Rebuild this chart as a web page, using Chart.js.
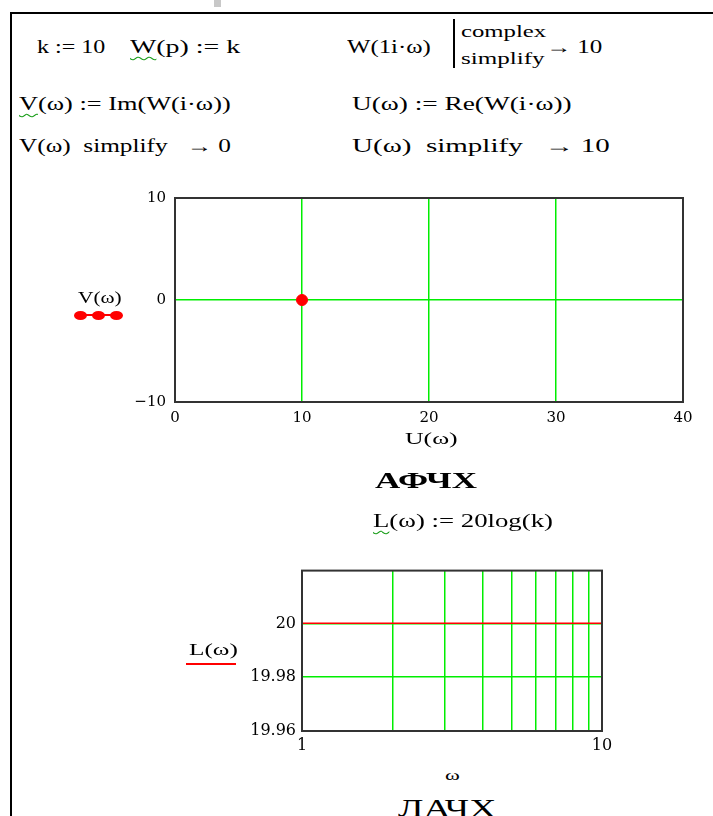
<!DOCTYPE html>
<html lang="ru">
<head>
  <meta charset="UTF-8">
  <title>АФЧХ и ЛАЧХ</title>
  <script src="https://cdn.jsdelivr.net/npm/chart.js"></script>
  <style>
    body { margin: 0; background: #fff; }
    #page { position: relative; width: 713px; height: 816px; overflow: hidden; background: #fff; }
    .t { position: absolute; white-space: pre; font-family: "Liberation Serif", serif; font-size: 18px;
         line-height: 20px; color: #000; transform-origin: left center; }
    .sq { text-decoration: underline wavy #1a9e1a; text-decoration-thickness: 1px; text-underline-offset: 3px; }
    .box { position: absolute; }
    canvas { position: absolute; }
  </style>
</head>
<body>
<div id="page">
  <div class="box" style="left:10px;top:12px;width:2px;height:804px;background:#000"></div>
  <div class="box" style="left:10px;top:12px;width:703px;height:2px;background:#000"></div>
  <div class="box" style="left:214px;top:0;width:7px;height:7px;background:#c8c8c8"></div>

  <div class="t" data-w="68" style="left:37px;top:37px">k := 10</div>
  <div class="t" data-w="110" style="left:130px;top:37px"><span class="sq">W</span>(p) := k</div>
  <div class="t" data-w="84" style="left:347px;top:37px">W(1i·ω)</div>
  <div class="box" style="left:453px;top:19px;width:2px;height:49px;background:#000"></div>
  <div class="t" data-w="85" style="left:461px;top:22px;font-size:16px">complex</div>
  <div class="t" data-w="83" style="left:461px;top:49px;font-size:16px">simplify</div>
  <div class="t" data-w="57" style="left:546px;top:37px">→ 10</div>

  <div class="t" data-w="212" style="left:19px;top:94px"><span class="sq">V</span>(ω) := Im(W(i·ω))</div>
  <div class="t" data-w="220" style="left:352px;top:94px">U(ω) := Re(W(i·ω))</div>
  <div class="t" data-w="212" style="left:19px;top:136px">V(ω)  simplify   → 0</div>
  <div class="t" data-w="258" style="left:352px;top:136px">U(ω)  simplify   → 10</div>

  <canvas id="afc" width="600" height="260" style="left:100px;top:180px"></canvas>
  <div class="t" data-w="44" style="left:78px;top:288px;font-size:17px">V(ω)</div>
  <div class="box" style="left:80px;top:314px;width:37px;height:2px;background:#f00"></div>
  <div class="box" style="left:74px;top:311px;width:13px;height:9px;border-radius:50%;background:#f00"></div>
  <div class="box" style="left:92px;top:311px;width:13px;height:9px;border-radius:50%;background:#f00"></div>
  <div class="box" style="left:110px;top:311px;width:13px;height:9px;border-radius:50%;background:#f00"></div>
  <div class="t" data-w="53" style="left:405px;top:429px;font-size:17px">U(ω)</div>
  <div class="t" data-w="102" style="left:375px;top:469px;font-size:23px;line-height:24px;font-weight:bold">АФЧХ</div>

  <div class="t" data-w="180" style="left:373px;top:511px"><span class="sq">L</span>(ω) := 20log(k)</div>

  <canvas id="lac" width="430" height="200" style="left:200px;top:555px"></canvas>
  <div class="t" data-w="49" style="left:189px;top:640px;font-size:17px">L(ω)</div>
  <div class="box" style="left:186px;top:663px;width:50px;height:2px;background:#f00"></div>
  <div class="t" data-w="15" style="left:445px;top:765px;font-size:15px">ω</div>
  <div class="t" data-w="99" style="left:398px;top:796px;font-size:25px;line-height:26px">ЛАЧХ</div>
</div>

<script>
  // АФЧХ: U(ω) = Re W, V(ω) = Im W, k = 10
  const U = [10];
  const V = [0];
  const uTicks = [0, 10, 20, 30, 40];
  const vTicks = [-10, 0, 10];

  // ЛАЧХ: L(ω) = 20 log(k)
  const omega = [1, 10];
  const L = [20, 20];
  const omegaTicks = [1, 2, 3, 4, 5, 6, 7, 8, 9, 10];
  const omegaLabels = [1, 10];
  const lTicks = [19.96, 19.98, 20];

  const GREEN = '#00ee00';
  const FRAME = '#333333';

  // Mathcad text is drawn wide, stretch each label to its width
  function stretchText() {
    document.querySelectorAll('.t[data-w]').forEach(el => {
      const w = el.offsetWidth;
      if (w > 0) el.style.transform = 'scaleX(' + (+el.dataset.w / w) + ')';
    });
  }
  stretchText();
  if (document.fonts) document.fonts.ready.then(stretchText);

  // green grid only inside the plot, frame drawn by the plugin below
  function innerGrid(ctx) {
    const s = ctx.scale;
    if (!ctx.tick) return 'rgba(0,0,0,0)';
    const v = ctx.tick.value;
    const eps = 1e-9;
    if (Math.abs(v - s.min) < eps || Math.abs(v - s.max) < eps) return 'rgba(0,0,0,0)';
    return GREEN;
  }

  function fixTicks(values) {
    return function (scale) {
      scale.ticks = values.map(v => ({ value: v }));
    };
  }

  const framePlugin = {
    id: 'frame',
    afterDraw(chart) {
      const a = chart.chartArea;
      const c = chart.ctx;
      c.save();
      c.strokeStyle = FRAME;
      c.lineWidth = 2;
      c.strokeRect(a.left, a.top, a.right - a.left, a.bottom - a.top);
      c.restore();
    }
  };

  Chart.defaults.animation = false;
  Chart.defaults.color = '#000';

  new Chart(document.getElementById('afc'), {
    type: 'scatter',
    data: {
      datasets: [{
        label: 'V(ω)',
        data: U.map((u, i) => ({ x: u, y: V[i] })),
        backgroundColor: '#ff0000',
        borderColor: '#ff0000',
        pointRadius: 5.5,
        pointHoverRadius: 5.5
      }]
    },
    options: {
      responsive: false,
      layout: { padding: { top: 14, right: 17, left: 0, bottom: 0 } },
      plugins: { legend: { display: false }, tooltip: { enabled: false } },
      scales: {
        x: {
          type: 'linear', min: 0, max: 40,
          afterBuildTicks: fixTicks(uTicks),
          afterFit: s => { s.height = 38; },
          border: { display: false },
          grid: { color: innerGrid, lineWidth: 1.5, drawTicks: false },
          ticks: { padding: 7, maxRotation: 0, autoSkip: false,
                   font: { family: 'DejaVu Serif', size: 15 } }
        },
        y: {
          type: 'linear', min: -10, max: 10,
          afterBuildTicks: fixTicks(vTicks),
          afterFit: s => { s.width = 75; },
          border: { display: false },
          grid: { color: innerGrid, lineWidth: 1.5, drawTicks: false },
          ticks: { padding: 9, autoSkip: false,
                   callback: v => String(v).replace('-', '\u2212'),
                   font: { family: 'DejaVu Serif', size: 15 } }
        }
      }
    },
    plugins: [framePlugin]
  });

  new Chart(document.getElementById('lac'), {
    type: 'line',
    data: {
      labels: omega,
      datasets: [{
        label: 'L(ω)',
        data: omega.map((w, i) => ({ x: w, y: L[i] })),
        borderColor: '#ff0000',
        borderWidth: 1.5,
        pointRadius: 0,
        fill: false
      }]
    },
    options: {
      responsive: false,
      layout: { padding: { top: 12, right: 28, left: 0, bottom: 0 } },
      plugins: { legend: { display: false }, tooltip: { enabled: false } },
      scales: {
        x: {
          type: 'logarithmic', min: 1, max: 10,
          afterBuildTicks: fixTicks(omegaTicks),
          afterFit: s => { s.height = 24; },
          border: { display: false },
          grid: { color: innerGrid, lineWidth: 1.5, drawTicks: false },
          ticks: { padding: 5, maxRotation: 0, autoSkip: false,
                   callback: v => omegaLabels.includes(v) ? String(v) : '',
                   font: { family: 'DejaVu Serif', size: 16 } }
        },
        y: {
          type: 'linear', min: 19.96, max: 20.0196,
          afterBuildTicks: fixTicks(lTicks),
          afterFit: s => { s.width = 102; },
          border: { display: false },
          grid: { color: innerGrid, lineWidth: 1.5, drawTicks: false },
          ticks: { padding: 6, autoSkip: false,
                   callback: v => String(v),
                   font: { family: 'DejaVu Serif', size: 16 } }
        }
      }
    },
    plugins: [framePlugin]
  });
</script>
</body>
</html>
